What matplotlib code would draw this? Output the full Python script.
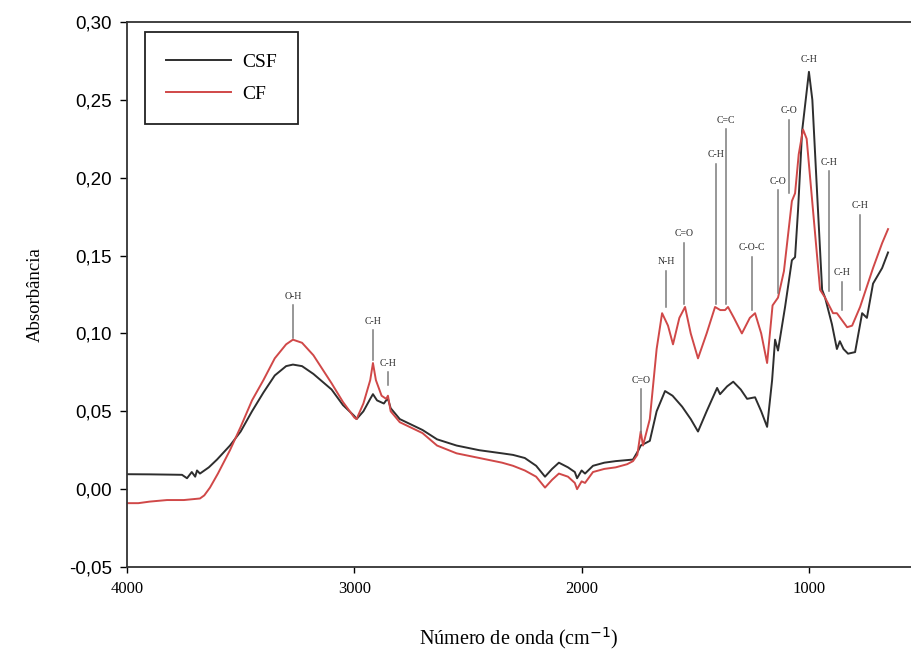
import matplotlib
matplotlib.use("Agg")
import matplotlib.pyplot as plt
import numpy as np

# FTIR spectra (wavenumber in cm-1, absorbance)
csf_wn = [4000, 3900, 3800, 3758, 3736, 3715, 3700, 3692, 3679, 3640, 3604, 3547,
          3500, 3450, 3400, 3350, 3300, 3270, 3230, 3180, 3100, 3050, 3000, 2990,
          2960, 2930, 2918, 2900, 2870, 2860, 2852, 2840, 2800, 2700, 2636, 2550,
          2450, 2350, 2302, 2250, 2200, 2161, 2130, 2100, 2060, 2030, 2020, 2000,
          1985, 1950, 1900, 1850, 1774, 1750, 1740, 1700, 1670, 1633, 1600, 1558,
          1520, 1488, 1450, 1404, 1391, 1360, 1333, 1300, 1272, 1237, 1210, 1184,
          1162, 1149, 1136, 1105, 1075, 1061, 1048, 1030, 1000, 985, 964, 942,
          929, 899, 877, 864, 848, 828, 797, 766, 745, 718, 678, 652]
csf_abs = [0.0096, 0.0095, 0.0093, 0.0092, 0.007, 0.011, 0.008, 0.012, 0.010, 0.014, 0.019, 0.028,
           0.037, 0.050, 0.062, 0.073, 0.079, 0.080, 0.079, 0.074, 0.064, 0.054, 0.047, 0.045,
           0.050, 0.058, 0.061, 0.057, 0.055, 0.057, 0.058, 0.052, 0.045, 0.038, 0.032, 0.028,
           0.025, 0.023, 0.022, 0.020, 0.015, 0.008, 0.013, 0.017, 0.014, 0.011, 0.007, 0.012,
           0.010, 0.015, 0.017, 0.018, 0.019, 0.025, 0.028, 0.031, 0.050, 0.063, 0.060, 0.053,
           0.045, 0.037, 0.050, 0.065, 0.061, 0.066, 0.069, 0.064, 0.058, 0.059, 0.050, 0.040,
           0.070, 0.096, 0.089, 0.117, 0.147, 0.149, 0.179, 0.230, 0.268, 0.250, 0.190, 0.128,
           0.123, 0.106, 0.090, 0.095, 0.090, 0.087, 0.088, 0.113, 0.110, 0.132, 0.142, 0.152]

cf_wn = [4000, 3950, 3900, 3824, 3750, 3679, 3660, 3635, 3600, 3547, 3500, 3450,
         3400, 3350, 3300, 3270, 3230, 3180, 3100, 3050, 3000, 2990, 2960, 2930,
         2918, 2905, 2880, 2860, 2852, 2840, 2800, 2700, 2636, 2550, 2450, 2350,
         2302, 2250, 2200, 2161, 2130, 2100, 2060, 2030, 2020, 2000, 1985, 1950,
         1900, 1850, 1800, 1774, 1755, 1740, 1730, 1700, 1670, 1646, 1620, 1598,
         1570, 1545, 1520, 1488, 1450, 1413, 1390, 1369, 1356, 1330, 1295, 1260,
         1237, 1210, 1184, 1160, 1136, 1110, 1075, 1061, 1045, 1026, 1010, 982,
         951, 929, 894, 877, 832, 810, 775, 718, 678, 652]
cf_abs = [-0.009, -0.009, -0.008, -0.007, -0.007, -0.006, -0.004, 0.001, 0.010, 0.025, 0.040, 0.057,
          0.070, 0.084, 0.093, 0.096, 0.094, 0.086, 0.068, 0.056, 0.046, 0.045, 0.055, 0.070,
          0.081, 0.070, 0.060, 0.058, 0.060, 0.050, 0.043, 0.036, 0.028, 0.023, 0.020, 0.017,
          0.015, 0.012, 0.008, 0.001, 0.006, 0.010, 0.008, 0.004, 0.000, 0.005, 0.004, 0.011,
          0.013, 0.014, 0.016, 0.018, 0.022, 0.037, 0.028, 0.045, 0.090, 0.113, 0.105, 0.093,
          0.110, 0.117, 0.100, 0.084, 0.100, 0.117, 0.115, 0.115, 0.117, 0.110, 0.100, 0.110,
          0.113, 0.100, 0.081, 0.118, 0.123, 0.140, 0.185, 0.190, 0.215, 0.231, 0.225, 0.179,
          0.128, 0.123, 0.113, 0.113, 0.104, 0.105, 0.117, 0.142, 0.158, 0.167]

# band assignments: label, wavenumber, line bottom, line top
band_labels = ["O-H", "C-H", "C-H", "C=O", "N-H", "C=O", "C-H", "C=C",
               "C-O-C", "C-O", "C-O", "C-H", "C-H", "C-H", "C-H"]
band_wn = [3270, 2918, 2852, 1739, 1629, 1549, 1409, 1365,
           1250, 1136, 1088, 1000, 912, 854, 775]
band_y0 = [0.097, 0.083, 0.067, 0.036, 0.117, 0.119, 0.119, 0.119,
           0.115, 0.126, 0.190, 0.270, 0.127, 0.115, 0.128]
band_y1 = [0.118, 0.102, 0.075, 0.064, 0.140, 0.158, 0.209, 0.231,
           0.149, 0.192, 0.237, 0.270, 0.204, 0.133, 0.176]

fig = plt.figure(figsize=(9.11, 6.59), dpi=100)
ax = fig.add_axes([0.1394, 0.1396, 0.8606, 0.827])

ax.plot(csf_wn, csf_abs, color="#2e2e2e", lw=1.4, label="CSF")
ax.plot(cf_wn, cf_abs, color="#d04848", lw=1.4, label="CF")

for lab, x, y0, y1 in zip(band_labels, band_wn, band_y0, band_y1):
    if y1 > y0:
        ax.plot([x, x], [y0, y1], color="#7a7a7a", lw=1.1)
    ax.text(x, y1 + 0.003, lab, ha="center", va="bottom", fontsize=7,
            family="Liberation Serif", color="#2a2a2a")

ax.set_xlim(4000, 551)
ax.set_ylim(-0.05, 0.30)
ax.set_xticks([4000, 3000, 2000, 1000])
ax.set_yticks(np.arange(-0.05, 0.301, 0.05))
ax.set_yticklabels([f"{v:.2f}".replace(".", ",") for v in np.arange(-0.05, 0.301, 0.05)],
                   family="Liberation Sans", fontsize=13.5)
ax.set_xticklabels(["4000", "3000", "2000", "1000"], family="Liberation Serif", fontsize=12)
ax.tick_params(axis="y", direction="out", length=5, width=1, pad=6)
ax.tick_params(axis="x", direction="out", length=4, width=1, pad=6)

ax.spines["right"].set_visible(False)
for s in ["left", "bottom", "top"]:
    ax.spines[s].set_linewidth(1.3)
    ax.spines[s].set_color("#333333")

ax.set_xlabel("Número de onda (cm$^{-1}$)", family="Liberation Serif", fontsize=14.5, labelpad=20)
ax.set_ylabel("Absorbância", family="Liberation Serif", fontsize=13.5, labelpad=18)

leg = ax.legend(loc="upper left", bbox_to_anchor=(0.023, 0.982), borderaxespad=0,
                prop={"family": "Liberation Serif", "size": 14}, handlelength=3.3,
                borderpad=1.1, labelspacing=0.75, handletextpad=0.6,
                fancybox=False, framealpha=1)
leg.get_frame().set_edgecolor("#222222")
leg.get_frame().set_linewidth(1.3)

plt.savefig("out.png", dpi=100)
